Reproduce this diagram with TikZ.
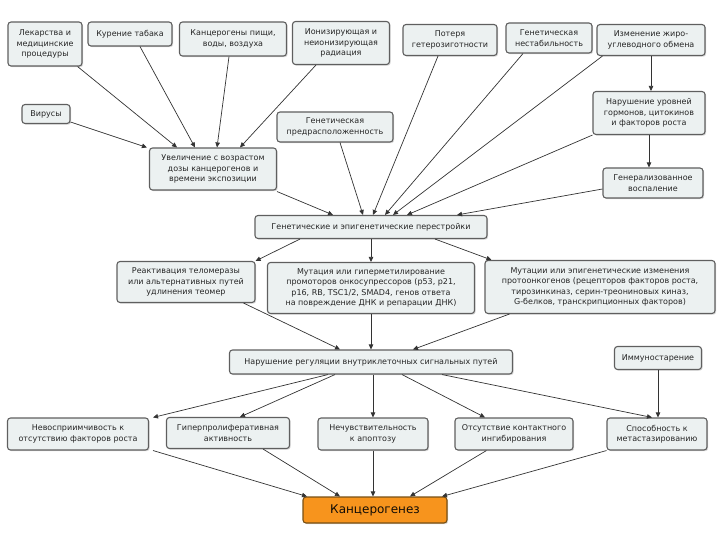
\documentclass[tikz,border=0pt]{standalone}
\usepackage{fontspec}
\setmainfont{DejaVu Sans}
\definecolor{BoxFill}{RGB}{236,241,241}
\definecolor{BoxLine}{RGB}{95,95,95}
\definecolor{CancOrange}{RGB}{247,148,29}
\definecolor{CancLine}{RGB}{120,80,20}
\usetikzlibrary{arrows.meta,calc,shadows}

\begin{document}
\begin{tikzpicture}[x=1pt,y=-1pt,
    box/.style={draw=BoxLine,fill=BoxFill,rounded corners=3pt,align=center,
      line width=1.1pt,inner sep=1pt,text=black!85,
      font=\fontsize{8}{10.5}\selectfont,
      drop shadow={shadow xshift=1.2pt,shadow yshift=-1.2pt,opacity=0.3}},
    sz/.style 2 args={minimum width=#1pt,minimum height=#2pt},
    arr/.style={-{Triangle[length=5pt,width=4.5pt]},line width=0.7pt,black!80}]
  \useasboundingbox (0,0) rectangle (720,540);
  %% Top row: sources
  \node[box,sz={74}{44}] (drugs) at (45,44) {Лекарства и\\медицинские\\процедуры};
  \node[box,sz={84}{24}] (smoke) at (130,34) {Курение табака};
  \node[box,sz={107}{34}] (food) at (233,39) {Канцерогены пищи,\\воды, воздуха};
  \node[box,sz={97}{43}] (rad) at (341,43) {Ионизирующая и\\неионизирующая\\радиация};
  \node[box,sz={94}{31}] (hetero) at (450,40) {Потеря\\гетерозиготности};
  \node[box,sz={86}{30}] (instab) at (549,38) {Генетическая\\нестабильность};
  \node[box,sz={108}{31}] (metab) at (651,40) {Изменение жиро-\\углеводного обмена};
  %% Second level
  \node[box,sz={48}{19}] (virus) at (46,114) {Вирусы};
  \node[box,sz={127}{42}] (dose) at (213,169) {Увеличение с возрастом\\дозы канцерогенов и\\времени экспозиции};
  \node[box,sz={116}{30}] (predisp) at (335,127) {Генетическая\\предрасположенность};
  \node[box,sz={112}{43}] (hormone) at (649,113) {Нарушение уровней\\гормонов, цитокинов\\и факторов роста};
  \node[box,sz={100}{30}] (inflam) at (653,183) {Генерализованное\\воспаление};
  \node[box,sz={232}{23}] (rearr) at (371,227) {Генетические и эпигенетические перестройки};
  %% Mechanisms
  \node[box,sz={138}{41}] (telo) at (186,282) {Реактивация теломеразы\\или альтернативных путей\\удлинения теомер};
  \node[box,sz={207}{51}] (suppr) at (371,288) {Мутация или гиперметилирование\\промоторов онкосупрессоров (p53, p21,\\p16, RB, TSC1/2, SMAD4, генов ответа\\на повреждение ДНК и репарации ДНК)};
  \node[box,sz={230}{53}] (onco) at (600,287) {Мутации или эпигенетические изменения\\протоонкогенов (рецепторов факторов роста,\\тирозинкиназ, серин-треониновых киназ,\\G-белков, транскрипционных факторов)};
  \node[box,sz={283}{24}] (signal) at (371,362) {Нарушение регуляции внутриклеточных сигнальных путей};
  \node[box,sz={87}{23}] (immune) at (658,358) {Иммуностарение};
  %% Hallmarks
  \node[box,sz={141}{32}] (insens) at (78,434) {Невосприимчивость к\\отсутствию факторов роста};
  \node[box,sz={123}{31}] (hyper) at (228,433) {Гиперпролиферативная\\активность};
  \node[box,sz={110}{32}] (apopt) at (373,434) {Нечувствительность\\к апоптозу};
  \node[box,sz={118}{32}] (contact) at (514,434) {Отсутствие контактного\\ингибирования};
  \node[box,sz={100}{32}] (metast) at (657,434) {Способность к\\метастазированию};
  \node[box,sz={144}{26},fill=CancOrange,draw=CancLine,text=black!90!brown,
        font=\fontsize{12}{14}\selectfont] (cancer) at (375,510) {Канцерогенез};
  %% Arrows into dose box
  \draw[arr] ($(drugs.south east)+(-5,0)$) -- ($(dose.north)+(-36,0)$);
  \draw[arr] ($(smoke.south)+(10,0)$) -- ($(dose.north)+(-18,0)$);
  \draw[arr] ($(food.south)+(-4,0)$) -- ($(dose.north)+(4,0)$);
  \draw[arr] ($(rad.south west)+(24,0)$) -- ($(dose.north)+(27,0)$);
  \draw[arr] ($(virus.south east)+(0,-2)$) -- ($(dose.north west)+(-2,0)$);
  %% Arrows into rearrangements
  \draw[arr] ($(dose.south east)+(0,1)$) -- ($(rearr.north)+(-38,0)$);
  \draw[arr] ($(predisp.south)+(5,0)$) -- ($(rearr.north)+(-8,0)$);
  \draw[arr] ($(hetero.south)+(-12,0)$) -- ($(rearr.north)+(2,0)$);
  \draw[arr] ($(instab.south)+(-26,0)$) -- ($(rearr.north)+(14,0)$);
  \draw[arr] ($(metab.south west)+(6,0)$) -- ($(rearr.north)+(22,0)$);
  \draw[arr] (hormone.south west) -- ($(rearr.north)+(36,0)$);
  \draw[arr] ($(inflam.west)+(0,6)$) -- ($(rearr.north)+(86,0)$);
  \draw[arr] (metab.south) -- (metab.south |- hormone.north);
  \draw[arr] (hormone.south) -- (hormone.south |- inflam.north);
  %% Rearrangements to mechanisms
  \draw[arr] ($(rearr.south)+(-71,0)$) -- (telo.north east);
  \draw[arr] (rearr.south) -- (suppr.north);
  \draw[arr] ($(rearr.south)+(64,0)$) -- ($(onco.north west)+(7,0)$);
  \draw[arr] ($(telo.south east)+(-12,0)$) -- ($(signal.north)+(-31,0)$);
  \draw[arr] (suppr.south) -- (signal.north);
  \draw[arr] ($(onco.south west)+(25,0)$) -- ($(signal.north)+(42,0)$);
  %% Signalling to hallmarks
  \draw[arr] ($(signal.south)+(-43,0)$) -- ($(insens.north east)+(4,0)$);
  \draw[arr] ($(signal.south)+(-36,0)$) -- ($(hyper.north)+(12,0)$);
  \draw[arr] (apopt.north |- signal.south) -- (apopt.north);
  \draw[arr] ($(signal.south)+(31,0)$) -- ($(contact.north)+(-29,0)$);
  \draw[arr] ($(signal.south)+(71,0)$) -- ($(metast.north)+(-5,0)$);
  \draw[arr] (immune.south) -- (immune.south |- metast.north);
  %% Hallmarks to carcinogenesis
  \draw[arr] ($(insens.south east)+(4,0)$) -- ($(cancer.north)+(-68,0)$);
  \draw[arr] ($(hyper.south east)+(-27,0)$) -- ($(cancer.north)+(-35,0)$);
  \draw[arr] (apopt.south) -- (apopt.south |- cancer.north);
  \draw[arr] ($(contact.south west)+(32,0)$) -- ($(cancer.north)+(35,0)$);
  \draw[arr] (metast.south west) -- ($(cancer.north)+(67,0)$);
\end{tikzpicture}
\end{document}
